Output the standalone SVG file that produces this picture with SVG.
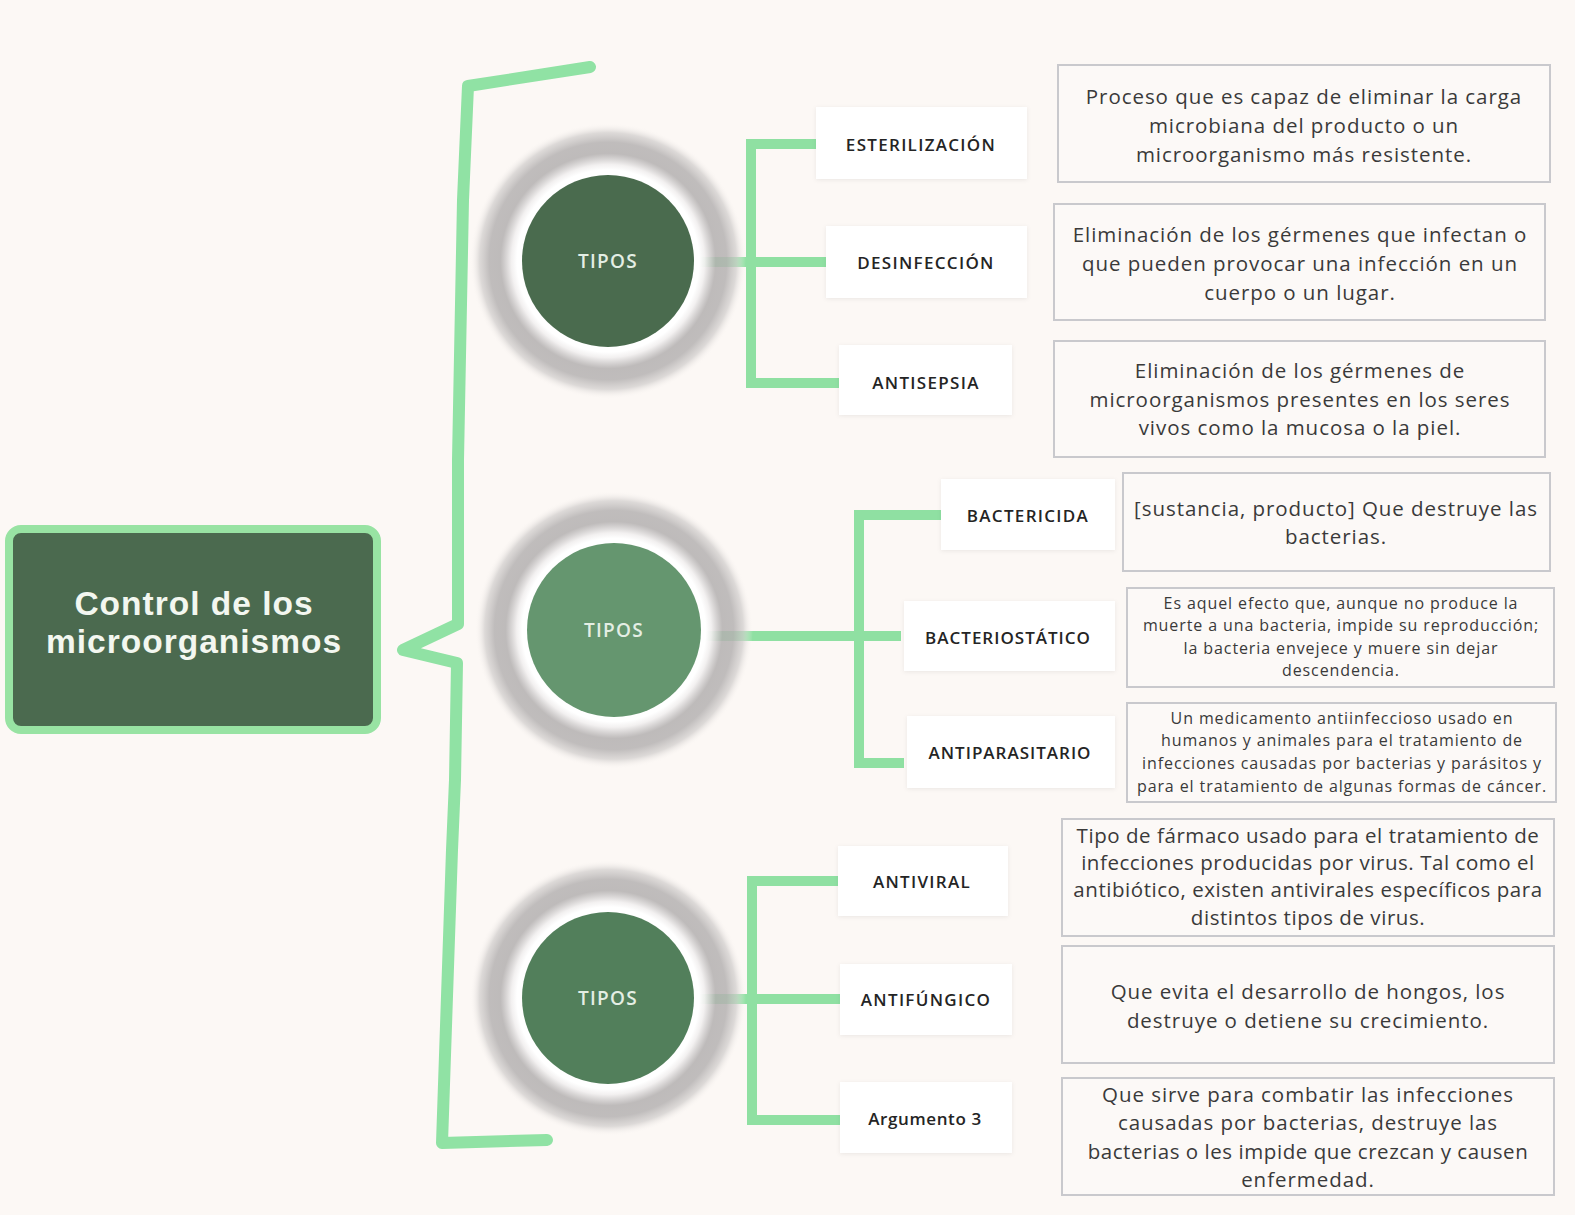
<svg xmlns="http://www.w3.org/2000/svg" width="1575" height="1215" viewBox="0 0 1575 1215">
<defs>
<radialGradient id="halo" cx="50%" cy="50%" r="50%">
<stop offset="0" stop-color="#ffffff"/>
<stop offset="0.66" stop-color="#ffffff"/>
<stop offset="0.70" stop-color="#f2f0f0" stop-opacity="0.95"/>
<stop offset="0.78" stop-color="#b3b0b0" stop-opacity="0.85"/>
<stop offset="0.86" stop-color="#b5b2b2" stop-opacity="0.85"/>
<stop offset="0.93" stop-color="#cfcccb" stop-opacity="0.7"/>
<stop offset="1" stop-color="#fcf8f5" stop-opacity="0"/>
</radialGradient>
<filter id="sh" x="-10%" y="-10%" width="120%" height="130%">
<feDropShadow dx="0" dy="1" stdDeviation="2" flood-color="#000" flood-opacity="0.07"/>
</filter>
<style>
.bg{fill:#fcf8f5}
.brace{fill:none;stroke:#90e2a4;stroke-width:12;stroke-linecap:round;stroke-linejoin:round}
.con{fill:none;stroke:#8fe0a2;stroke-width:10;stroke-linecap:butt;stroke-linejoin:miter}
.lbl{fill:#ffffff;filter:url(#sh)}
.lt{font-family:"Open Sans","Liberation Sans",sans-serif;font-weight:600;font-size:17px;letter-spacing:1.3px;fill:#242424;text-anchor:middle;dominant-baseline:central}
.desc{fill:#fcf9f7;stroke:#c9c9cd;stroke-width:2}
.dt{font-family:"Open Sans","Liberation Sans",sans-serif;font-size:20.5px;letter-spacing:0.95px;fill:#3a3a3a;text-anchor:middle;dominant-baseline:central}
.dt2{letter-spacing:0.55px}
.ds{font-family:"Open Sans","Liberation Sans",sans-serif;font-size:16px;letter-spacing:0.9px;fill:#3a3a3a;text-anchor:middle;dominant-baseline:central}
.tipos{font-family:"Open Sans","Liberation Sans",sans-serif;font-weight:600;font-size:19px;letter-spacing:1.3px;fill:#e4eee4;text-anchor:middle;dominant-baseline:central}
.title{font-family:"Liberation Sans","Open Sans",sans-serif;font-weight:700;font-size:33.5px;letter-spacing:1px;fill:#f3f7f0;text-anchor:middle}
</style>
</defs>
<rect class="bg" x="0" y="0" width="1575" height="1215"/>

<g id="connectors">
<path class="brace" d="M590,67 L468,86 L463,200 L458,460 L458,624 L403,650 L457,663 L455,780 L452,850 L442,1143 L547,1140"/>
<path class="con" d="M816,144 H751 V383 H839"/>
<path class="con" d="M700,262 H826"/>
<path class="con" d="M941,515 H859 V763 H904"/>
<path class="con" d="M705,636 H901"/>
<path class="con" d="M838,881 H752 V1120 H840"/>
<path class="con" d="M700,999 H840"/>
</g>

<g id="main">
<rect x="9" y="529" width="368" height="201" rx="12" fill="#4b6a4f" stroke="#98e3a3" stroke-width="8"/>
<text class="title" x="194" y="615">Control de los</text>
<text class="title" x="194" y="653">microorganismos</text>
</g>

<g id="tipos1">
<circle cx="608" cy="261" r="138" fill="url(#halo)"/>
<circle cx="608" cy="261" r="86" fill="#4a6b4e"/>
<text class="tipos" x="608" y="261">TIPOS</text>
</g>
<g id="tipos2">
<circle cx="614" cy="630" r="139" fill="url(#halo)"/>
<circle cx="614" cy="630" r="87" fill="#65966f"/>
<text class="tipos" x="614" y="630">TIPOS</text>
</g>
<g id="tipos3">
<circle cx="608" cy="998" r="138" fill="url(#halo)"/>
<circle cx="608" cy="998" r="86" fill="#527f5b"/>
<text class="tipos" x="608" y="998">TIPOS</text>
</g>

<g id="esterilizacion">
<rect class="lbl" x="816" y="107" width="211" height="72"/>
<text class="lt" x="921" y="144">ESTERILIZACIÓN</text>
</g>
<g id="desinfeccion">
<rect class="lbl" x="826" y="226" width="201" height="72"/>
<text class="lt" x="926" y="262">DESINFECCIÓN</text>
</g>
<g id="antisepsia">
<rect class="lbl" x="839" y="345" width="173" height="70"/>
<text class="lt" x="926" y="382">ANTISEPSIA</text>
</g>
<g id="bactericida">
<rect class="lbl" x="941" y="479" width="174" height="71"/>
<text class="lt" x="1028" y="515">BACTERICIDA</text>
</g>
<g id="bacteriostatico">
<rect class="lbl" x="904" y="601" width="211" height="70"/>
<text class="lt" x="1008" y="637" style="letter-spacing:1px">BACTERIOSTÁTICO</text>
</g>
<g id="antiparasitario">
<rect class="lbl" x="907" y="716" width="208" height="72"/>
<text class="lt" x="1010" y="752" style="letter-spacing:1px">ANTIPARASITARIO</text>
</g>
<g id="antiviral">
<rect class="lbl" x="838" y="846" width="170" height="70"/>
<text class="lt" x="922" y="881">ANTIVIRAL</text>
</g>
<g id="antifungico">
<rect class="lbl" x="840" y="964" width="172" height="71"/>
<text class="lt" x="926" y="999">ANTIFÚNGICO</text>
</g>
<g id="argumento3">
<rect class="lbl" x="840" y="1082" width="172" height="71"/>
<text class="lt" x="925" y="1118" style="letter-spacing:0.6px">Argumento 3</text>
</g>

<g id="desc1">
<rect class="desc" x="1058" y="65" width="492" height="117"/>
<text class="dt" x="1304" y="96">Proceso que es capaz de eliminar la carga</text>
<text class="dt" x="1304" y="125">microbiana del producto o un</text>
<text class="dt" x="1304" y="154">microorganismo más resistente.</text>
</g>
<g id="desc2">
<rect class="desc" x="1054" y="204" width="491" height="116"/>
<text class="dt" x="1300" y="234">Eliminación de los gérmenes que infectan o</text>
<text class="dt" x="1300" y="263">que pueden provocar una infección en un</text>
<text class="dt" x="1300" y="292">cuerpo o un lugar.</text>
</g>
<g id="desc3">
<rect class="desc" x="1054" y="341" width="491" height="116"/>
<text class="dt" x="1300" y="370">Eliminación de los gérmenes  de</text>
<text class="dt" x="1300" y="399">microorganismos presentes en los seres</text>
<text class="dt" x="1300" y="427">vivos como la mucosa o la piel.</text>
</g>
<g id="desc4">
<rect class="desc" x="1123" y="473" width="427" height="98"/>
<text class="dt" x="1336" y="508">[sustancia, producto] Que destruye las</text>
<text class="dt" x="1336" y="536">bacterias.</text>
</g>
<g id="desc5">
<rect class="desc" x="1127" y="588" width="427" height="99"/>
<text class="ds" x="1341" y="603">Es aquel efecto que, aunque no produce la</text>
<text class="ds" x="1341" y="625">muerte a una bacteria, impide su reproducción;</text>
<text class="ds" x="1341" y="648">la bacteria envejece y muere sin dejar</text>
<text class="ds" x="1341" y="670">descendencia.</text>
</g>
<g id="desc6">
<rect class="desc" x="1127" y="703" width="429" height="99"/>
<text class="ds" x="1342" y="718">Un medicamento antiinfeccioso usado en</text>
<text class="ds" x="1342" y="740">humanos y animales para el tratamiento de</text>
<text class="ds" x="1342" y="763">infecciones causadas por bacterias y parásitos y</text>
<text class="ds" x="1342" y="786">para el tratamiento de algunas formas de cáncer.</text>
</g>
<g id="desc7">
<rect class="desc" x="1062" y="819" width="492" height="117"/>
<text class="dt dt2" x="1308" y="835">Tipo de fármaco usado para el tratamiento de</text>
<text class="dt dt2" x="1308" y="862">infecciones producidas por virus. Tal como el</text>
<text class="dt dt2" x="1308" y="889">antibiótico, existen antivirales específicos para</text>
<text class="dt dt2" x="1308" y="917">distintos tipos de virus.</text>
</g>
<g id="desc8">
<rect class="desc" x="1062" y="946" width="492" height="117"/>
<text class="dt" x="1308" y="991">Que evita el desarrollo de hongos, los</text>
<text class="dt" x="1308" y="1020">destruye o detiene su crecimiento.</text>
</g>
<g id="desc9">
<rect class="desc" x="1062" y="1078" width="492" height="117"/>
<text class="dt" x="1308" y="1094">Que sirve para combatir las infecciones</text>
<text class="dt" x="1308" y="1122">causadas por bacterias, destruye las</text>
<text class="dt dt2" x="1308" y="1151">bacterias o les impide que crezcan y causen</text>
<text class="dt" x="1308" y="1179">enfermedad.</text>
</g>
</svg>
